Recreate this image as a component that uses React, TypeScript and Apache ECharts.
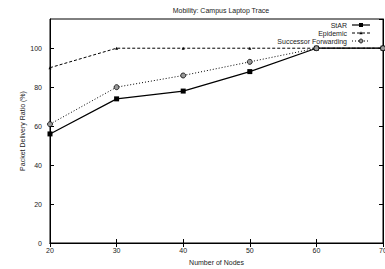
import React, { useEffect, useRef } from "react";
import * as echarts from "echarts";

const nodes = [20, 30, 40, 50, 60, 70];
const starValues = [56, 74, 78, 88, 100, 100];
const epidemicValues = [90, 100, 100, 100, 100, 100];
const successorValues = [61, 80, 86, 93, 100, 100];
const seriesNames = ["StAR", "Epidemic", "Successor Forwarding"];

const FONT = "Liberation Sans";
const TXT = "#222";

export default function App() {
  const ref = useRef<HTMLDivElement>(null);
  useEffect(() => {
    if (!ref.current) return;
    const chart = echarts.init(ref.current, null, { renderer: "svg" });
    const pairs = (vals: number[]) => nodes.map((n, i) => [n, vals[i]]);
    const tickStyle = { inside: true, length: 4, lineStyle: { color: "#000", width: 1 } };

    // manual legend (gnuplot style: right-aligned text, sample on the right)
    const legTextRight = 347;
    const legX1 = 352;
    const legX2 = 370;
    const legMid = (legX1 + legX2) / 2;
    const rows = [25, 33, 41];
    const legend: any[] = [];
    seriesNames.forEach((name, i) => {
      const y = rows[i];
      legend.push({
        type: "text",
        x: legTextRight,
        y,
        style: { text: name, align: "right", verticalAlign: "middle", fontSize: 7, fill: TXT, fontFamily: FONT },
      });
      legend.push({
        type: "line",
        shape: { x1: legX1, y1: y, x2: legX2, y2: y },
        style: {
          stroke: "#000",
          lineWidth: i === 0 ? 1.2 : 1,
          lineDash: i === 0 ? null : i === 1 ? [3, 2] : [1, 2],
        },
      });
    });
    legend.push({ type: "rect", shape: { x: legMid - 2, y: rows[0] - 2, width: 4, height: 4 }, style: { fill: "#000" } });
    legend.push({
      type: "polygon",
      shape: { points: [[legMid, rows[1] - 1.7], [legMid - 1.6, rows[1] + 1.2], [legMid + 1.6, rows[1] + 1.2]] },
      style: { fill: "#000" },
    });
    legend.push({ type: "circle", shape: { cx: legMid, cy: rows[2], r: 2 }, style: { fill: "#999", stroke: "#000", lineWidth: 0.8 } });

    chart.setOption({
      animation: false,
      backgroundColor: "#fff",
      textStyle: { fontFamily: FONT },
      title: {
        text: "Mobility: Campus Laptop Trace",
        left: 216,
        textAlign: "center",
        top: 2,
        textStyle: { fontSize: 7, fontWeight: "normal", color: TXT, fontFamily: FONT },
      },
      graphic: legend,
      grid: {
        left: 50,
        right: 2,
        top: 19,
        bottom: 26,
        outerBoundsMode: "none",
        containLabel: false,
        show: true,
        borderColor: "#000",
        borderWidth: 1,
        backgroundColor: "transparent",
      },
      xAxis: [
        {
          type: "value",
          min: 20,
          max: 70,
          interval: 10,
          name: "Number of Nodes",
          nameLocation: "middle",
          nameGap: 16,
          nameTextStyle: { fontSize: 7, color: TXT, fontFamily: FONT },
          axisLine: { lineStyle: { color: "#000", width: 1 } },
          axisTick: tickStyle,
          axisLabel: { fontSize: 7, color: TXT, margin: 4, fontFamily: FONT },
          splitLine: { show: false },
        },
        {
          type: "value",
          position: "top",
          min: 20,
          max: 70,
          interval: 10,
          axisLine: { lineStyle: { color: "#000", width: 1 } },
          axisTick: tickStyle,
          axisLabel: { show: false },
          splitLine: { show: false },
        },
      ],
      yAxis: [
        {
          type: "value",
          min: 0,
          max: 115,
          interval: 20,
          name: "Packet Delivery Ratio (%)",
          nameLocation: "middle",
          nameGap: 24,
          nameMoveOverlap: false,
          nameTextStyle: { fontSize: 7, color: TXT, fontFamily: FONT },
          axisLine: { show: true, lineStyle: { color: "#000", width: 1 } },
          axisTick: tickStyle,
          axisLabel: { fontSize: 7, color: TXT, margin: 8, fontFamily: FONT, showMaxLabel: false },
          splitLine: { show: false },
        },
        {
          type: "value",
          position: "right",
          min: 0,
          max: 115,
          interval: 20,
          axisLine: { show: true, lineStyle: { color: "#000", width: 1 } },
          axisTick: tickStyle,
          axisLabel: { show: false },
          splitLine: { show: false },
        },
      ],
      series: [
        {
          name: seriesNames[0],
          type: "line",
          data: pairs(starValues),
          symbol: "rect",
          symbolSize: 5,
          lineStyle: { color: "#000", width: 1.2, type: "solid" },
          itemStyle: { color: "#000" },
        },
        {
          name: seriesNames[1],
          type: "line",
          data: pairs(epidemicValues),
          symbol: "triangle",
          symbolSize: 3,
          lineStyle: { color: "#000", width: 1, type: [3, 2] },
          itemStyle: { color: "#000" },
        },
        {
          name: seriesNames[2],
          type: "line",
          data: pairs(successorValues),
          symbol: "circle",
          symbolSize: 5,
          lineStyle: { color: "#000", width: 1, type: [1, 2] },
          itemStyle: { color: "#999", borderColor: "#000", borderWidth: 0.8 },
        },
      ],
    });
    return () => chart.dispose();
  }, []);
  return (
    <div
      ref={ref}
      style={{ position: "absolute", left: 0, top: 0, width: 385, height: 269 }}
    />
  );
}
